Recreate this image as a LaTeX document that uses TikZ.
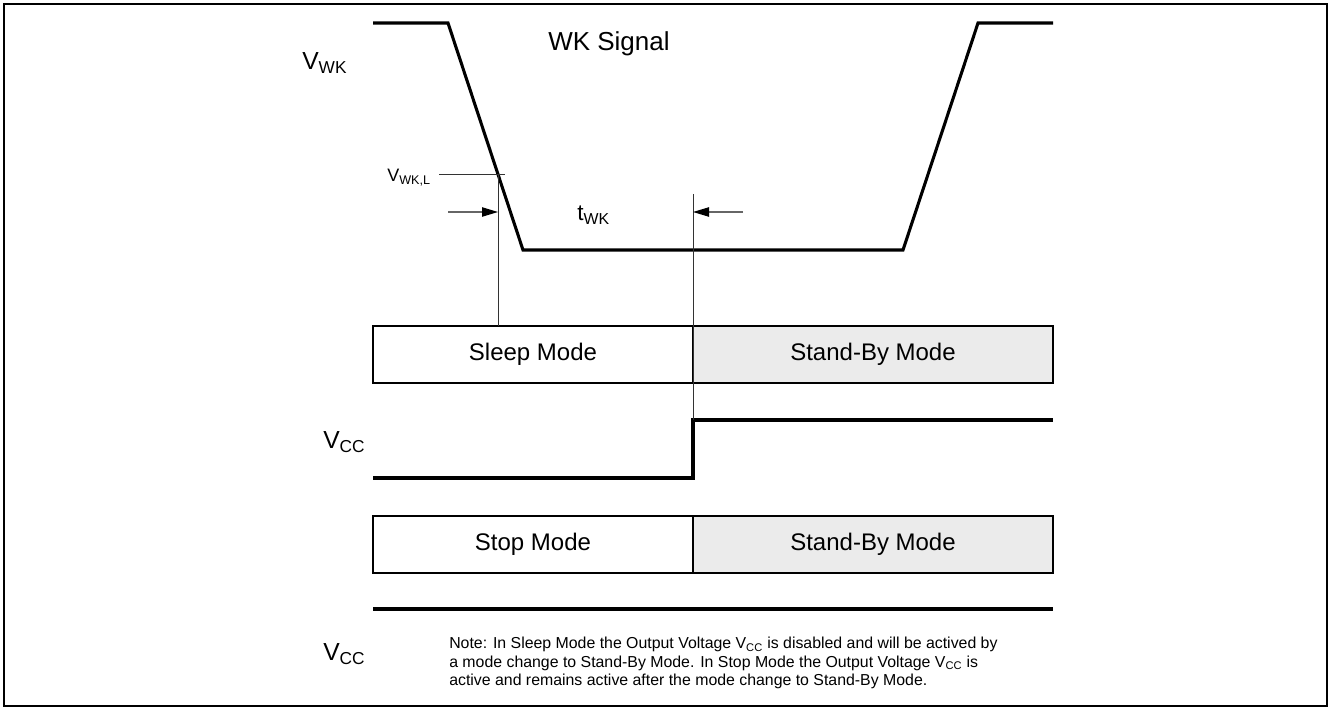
\documentclass[tikz,border=0pt]{standalone}
\usepackage{fontspec}
\setmainfont{Liberation Sans}
\usetikzlibrary{arrows.meta,positioning}
\tikzset{
  wave/.style={line width=2.3pt, line join=miter},
  thinline/.style={line width=0.7pt, draw=black!80},
  dimarrow/.style={line width=0.9pt, draw=black!60, -{Triangle[length=12pt,width=7pt,color=black]}},
  modebox/.style={draw, line width=2.2pt, minimum width=240pt, minimum height=42.75pt,
    inner sep=0pt, outer sep=0pt, font=\fontsize{18}{21}\selectfont},
  standby/.style={modebox, minimum width=270pt, fill=black!8},
  lbl/.style={inner sep=0pt, font=\fontsize{18.5}{21}\selectfont},
  smalllbl/.style={inner sep=0pt, font=\fontsize{13.5}{16}\selectfont},
  notetext/.style={inner sep=0pt, align=left, font=\fontsize{11.9}{13.9}\selectfont}
}

\begin{document}
\begin{tikzpicture}[x=0.75pt, y=-0.75pt]
  \useasboundingbox (0,0) rectangle (1330,709);
  \draw[line width=1.1pt] (4,4) rectangle (1327,706);

  % labels
  \node[lbl, anchor=base west] (vwk) at (302,70) {V\textsubscript{WK}};
  \node[lbl, font=\fontsize{19.5}{22}\selectfont, anchor=base west] (sig) at (548,51) {WK Signal};
  \node[smalllbl, anchor=base west] (vwkl) at (387,182) {V\textsubscript{WK,L}};
  \node[lbl, font=\fontsize{17}{20}\selectfont, anchor=base west] (twk) at (577,221) {t\textsubscript{WK}};
  \node[lbl, anchor=base west] (vcc1) at (323,448) {V\textsubscript{CC}};
  \node[lbl, anchor=base west] (vcc2) at (323,660) {V\textsubscript{CC}};

  % WK signal
  \draw[wave] (373,23) -- (448,23) -- (523,250) -- (903,250) -- (978,23) -- (1053,23);

  % mode boxes
  \node[modebox, anchor=north west] (sleep) at (373,326) {Sleep Mode};
  \node[standby, right=0pt of sleep] (standby1) {Stand-By Mode};
  \node[modebox, anchor=north west] (stop) at (373,516) {Stop Mode};
  \node[standby, right=0pt of stop] (standby2) {Stand-By Mode};

  % Vcc lines
  \coordinate (vcchi) at (693,420);
  \draw[wave] (373,478) -- (693,478) -- (vcchi) -- (1053,420);
  \draw[wave] (373,609) -- (1053,609);

  % timing marks
  \coordinate (vl) at (498,174);
  \coordinate (tw) at (693,194);
  \draw[thinline] (439,174) -- (505,174);
  \draw[thinline] (vl) -- (vl |- sleep.north);
  \draw[thinline] (tw) -- (vcchi);
  \coordinate (a1) at (448,212);
  \coordinate (a2) at (743,212);
  \draw[dimarrow] (a1) -- (a1 -| vl);
  \draw[dimarrow] (a2) -- (a2 -| tw);

  \node[notetext, anchor=north west] (note) at (449,637) {Note: In Sleep Mode the Output Voltage V\textsubscript{CC} is disabled and will be actived by\\
    a mode change to Stand-By Mode. In Stop Mode the Output Voltage V\textsubscript{CC} is\\
    active and remains active after the mode change to Stand-By Mode.};
\end{tikzpicture}
\end{document}
